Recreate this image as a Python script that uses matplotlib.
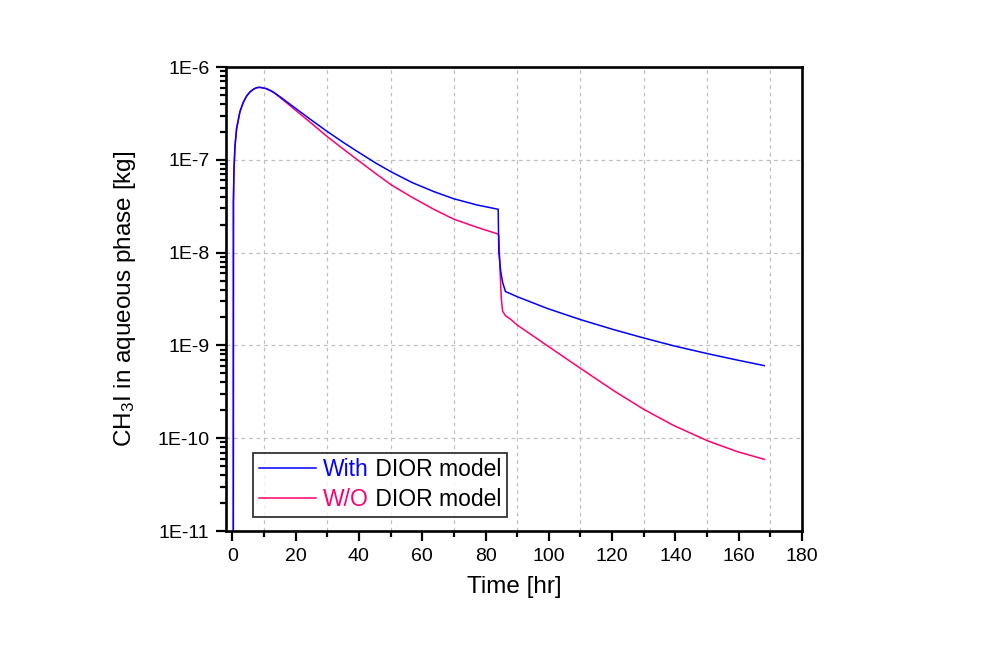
"""
CH3I en fase acuosa - con y sin modelo DIOR
"""
import numpy as np
import matplotlib
matplotlib.use("Agg")
import matplotlib.pyplot as plt
from matplotlib.ticker import MultipleLocator, LogLocator, FuncFormatter, NullFormatter

plt.rcParams['font.family'] = ['Liberation Sans', 'DejaVu Sans']
plt.rcParams['mathtext.fontset'] = 'custom'
plt.rcParams['mathtext.rm'] = 'Liberation Sans'
plt.rcParams['mathtext.it'] = 'Liberation Sans:italic'

# Datos (tiempo [hr], log10 de masa [kg])
t_with = [0.30, 0.35, 0.52, 0.83, 1.36, 2.41, 3.46, 4.52, 5.57, 6.62, 7.67, 8.72,
          10.83, 12.94, 15.04, 19.25, 24.51, 29.78, 35.04, 40.30, 45.57, 50.2, 56.8,
          63.7, 70.0, 77.35, 84.0, 84.2, 84.8, 85.4, 86.3, 87.5, 90.0, 99.45, 110.0,
          120.5, 130.0, 139.4, 150.3, 159.4, 168.1]
log_with = [-12.0, -7.45, -7.11, -6.859, -6.661, -6.481, -6.381, -6.3125, -6.269, -6.241,
            -6.223, -6.219, -6.2335, -6.269, -6.320, -6.427, -6.560, -6.690, -6.812,
            -6.928, -7.040, -7.130, -7.245, -7.343, -7.42, -7.487, -7.533, -7.99, -8.20,
            -8.32, -8.42, -8.437, -8.475, -8.601, -8.722, -8.830, -8.920, -9.004, -9.090,
            -9.157, -9.218]

t_wo = [0.30, 0.35, 0.52, 0.83, 1.36, 2.41, 3.46, 4.52, 5.57, 6.62, 7.67, 8.72,
        10.83, 12.94, 15.04, 19.25, 24.51, 29.78, 35.04, 40.30, 45.57, 50.2, 56.8,
        63.7, 70.0, 77.35, 84.0, 84.2, 84.6, 85.0, 85.4, 86.3, 88.0, 90.0, 99.45, 110.0,
        120.5, 130.0, 139.4, 150.3, 159.4, 168.1]
log_wo = [-12.0, -7.45, -7.11, -6.859, -6.661, -6.481, -6.381, -6.3125, -6.269, -6.241,
          -6.223, -6.219, -6.2345, -6.272, -6.327, -6.445, -6.593, -6.744, -6.884,
          -7.020, -7.155, -7.270, -7.404, -7.534, -7.64, -7.728, -7.80, -7.82, -8.20,
          -8.50, -8.63, -8.68, -8.72, -8.78, -9.0015, -9.247, -9.488, -9.689,
          -9.862, -10.030, -10.143, -10.228]

labels = ['With', 'W/O']
label_tail = ' DIOR model'
colors = ['#0000FF', '#FF0070']

fig = plt.figure(figsize=(9.86, 6.55), dpi=100)
ax = fig.add_axes([0.2292, 0.1893, 0.5842, 0.7084])

ax.plot(t_wo, 10 ** np.array(log_wo), color=colors[1], lw=1.1,
        label=labels[1] + label_tail)
ax.plot(t_with, 10 ** np.array(log_with), color=colors[0], lw=1.1,
        label=labels[0] + label_tail)

ax.set_yscale('log')
ax.set_xlim(-2, 180)
ax.set_ylim(1e-11, 1e-6)

ax.xaxis.set_major_locator(MultipleLocator(20))
ax.xaxis.set_minor_locator(MultipleLocator(10))
ax.yaxis.set_major_locator(LogLocator(base=10, numticks=10))
ax.yaxis.set_minor_locator(LogLocator(base=10, subs=np.arange(2, 10), numticks=10))
ax.yaxis.set_major_formatter(FuncFormatter(lambda v, p: f"1E{int(round(np.log10(v)))}"))
ax.yaxis.set_minor_formatter(NullFormatter())

ax.tick_params(which='both', direction='out', top=False, right=False, width=1.6)
ax.tick_params(which='major', length=7, labelsize=14, pad=5)
ax.tick_params(which='minor', length=4)
for sp in ax.spines.values():
    sp.set_linewidth(1.9)

# Grid: horizontales en decadas, verticales en ticks menores
ax.grid(False)
for v in [1e-10, 1e-9, 1e-8, 1e-7]:
    ax.axhline(v, color='#c0c0c0', lw=0.9, ls=(0, (3, 3)), zorder=0)
for xv in range(10, 180, 20):
    ax.axvline(xv, color='#c0c0c0', lw=0.9, ls=(0, (3, 3)), zorder=0)

ax.set_xlabel('Time [hr]', fontsize=17.5, labelpad=8)
ax.set_ylabel('CH$_3$I in aqueous phase [kg]', fontsize=17.5, labelpad=14)

# Leyenda con la primera palabra coloreada
handles, labs = ax.get_legend_handles_labels()
handles, labs = handles[::-1], labs[::-1]
leg = ax.legend(handles, labs, loc='lower left', bbox_to_anchor=(0.047, 0.030),
                fontsize=16.5, frameon=True, fancybox=False, edgecolor='black',
                handlelength=2.5, handletextpad=0.3, borderpad=0.25, labelspacing=0.3,
                borderaxespad=0)
leg.get_frame().set_linewidth(1.3)
for txt, word, c in zip(leg.get_texts(), labels, colors):
    txt.set_alpha(0)
    first = ax.annotate(word, xy=(0, 0), xycoords=txt, va='bottom', ha='left',
                        color=c, fontsize=16.5, zorder=10)
    ax.annotate(label_tail, xy=(1, 0), xycoords=first, va='bottom', ha='left',
                color='black', fontsize=16.5, zorder=10)

fig.canvas.draw()
plt.savefig('out.png', dpi=100)
